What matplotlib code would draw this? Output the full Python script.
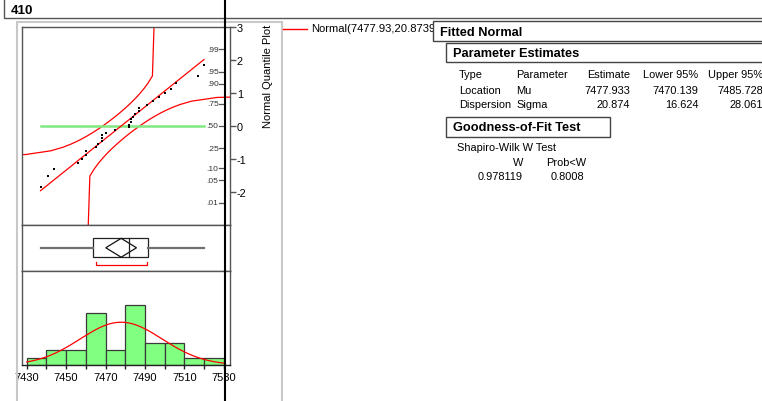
import matplotlib
matplotlib.use("Agg")
import matplotlib.pyplot as plt
from matplotlib.lines import Line2D
from matplotlib.patches import Rectangle, Polygon
import matplotlib.transforms as mtransforms
import numpy as np
from statistics import NormalDist

plt.rcParams['font.family'] = ['Liberation Sans', 'DejaVu Sans']

# ============================================================
# DATOS
# ============================================================
valores = [7437, 7441, 7444, 7456, 7458, 7460, 7460, 7465, 7466, 7468,
           7468, 7468, 7470, 7475, 7482, 7482, 7483, 7483, 7484, 7485,
           7487, 7487, 7491, 7494, 7497, 7500, 7503, 7506, 7517, 7520]
bordes = [7430, 7440, 7450, 7460, 7470, 7480, 7490, 7500, 7510, 7520, 7530]
media = 7477.933
sigma = 20.874
ic_media = [7470.139, 7485.728]
mitad_corta = [7465, 7491]
d_banda = 0.19   # ancho de la banda de confianza (en probabilidad)
probs = [0.01, 0.05, 0.10, 0.25, 0.50, 0.75, 0.90, 0.95, 0.99]
prob_labels = ['.01', '.05', '.10', '.25', '.50', '.75', '.90', '.95', '.99']
z_ticks = [-2, -1, 0, 1, 2, 3]
x_ticks = [7430, 7440, 7450, 7460, 7470, 7480, 7490, 7500, 7510, 7520, 7530]

tabla_cols = ['Type', 'Parameter', 'Estimate', 'Lower 95%', 'Upper 95%']
tabla_filas = [['Location', 'Mu', '7477.933', '7470.139', '7485.728'],
               ['Dispersion', 'Sigma', '20.874', '16.624', '28.061']]
sw_w = '0.978119'
sw_p = '0.8008'

W, H = 762, 402
nd = NormalDist()


def fx(x):
    return x / W


def fy(y):
    return 1 - y / H


fig = plt.figure(figsize=(W / 100, H / 100), dpi=100)

gris = '#555555'
rojo = '#ff0000'
verde = '#80ff80'
xlim = (7427.6, 7533.2)
fs = 7.9

# ============================================================
# Paneles
# ============================================================
ax_q = fig.add_axes([fx(22), fy(226), (230 - 22) / W, (226 - 28) / H])
ax_b = fig.add_axes([fx(22), fy(272), (230 - 22) / W, (272 - 226) / H])
ax_h = fig.add_axes([fx(22), fy(366), (230 - 22) / W, (366 - 272) / H])

for ax in (ax_q, ax_b, ax_h):
    ax.set_xlim(*xlim)
    for s in ax.spines.values():
        s.set_color(gris)
        s.set_linewidth(1.0)

# ---------------- grafico de cuantiles normales ----------------
n = len(valores)
ordenados = sorted(valores)
z_rango = [nd.inv_cdf((i + 1) / (n + 1)) for i in range(n)]

ax_q.set_ylim(-3, 3)

# bandas de confianza (tipo Lilliefors sobre la distribucion empirica)
lejos = 6 * sigma
xs_sup, zs_sup = [], []
for i in range(1, n):
    p = i / n - d_banda
    if p <= 0:
        continue
    if not xs_sup:
        xs_sup.append(media - lejos)
        zs_sup.append(z_rango[i - 2])
    xs_sup.append(media + sigma * nd.inv_cdf(p))
    zs_sup.append(z_rango[i - 1])
xs_sup.append(media + sigma * nd.inv_cdf(1 - d_banda))
zs_sup.append(6)

xs_inf, zs_inf = [media + sigma * nd.inv_cdf(d_banda)], [-6]
for i in range(2, n + 1):
    p = (i - 1) / n + d_banda
    if p >= 1:
        xs_inf.append(media + lejos)
        zs_inf.append(z_rango[i - 1])
        break
    xs_inf.append(media + sigma * nd.inv_cdf(p))
    zs_inf.append(z_rango[i - 1])

ax_q.plot(xs_sup, zs_sup, color=rojo, lw=0.9)
ax_q.plot(xs_inf, zs_inf, color=rojo, lw=0.9)

# linea en cero y linea ajustada
ax_q.plot([ordenados[0], ordenados[-1]], [0, 0], color='#80e880', lw=1.8)
ax_q.plot([ordenados[0], ordenados[-1]],
          [(ordenados[0] - media) / sigma, (ordenados[-1] - media) / sigma],
          color=rojo, lw=0.9)
ax_q.plot(ordenados, z_rango, 's', color='black', ms=2.1, mew=0)

ax_q.set_xticks([])
ax_q.yaxis.tick_right()
ax_q.set_yticks(z_ticks)
ax_q.set_yticklabels([str(z) for z in z_ticks])
ax_q.tick_params(axis='y', direction='out', length=4, width=1, color=gris,
                 labelsize=7.8, pad=1)

# eje de probabilidades (dentro del panel)
trans = mtransforms.blended_transform_factory(ax_q.transAxes, ax_q.transData)
for p, lab in zip(probs, prob_labels):
    z = nd.inv_cdf(p)
    ax_q.plot([0.947, 0.972], [z, z], color=gris, lw=0.9, transform=trans)
    ax_q.text(0.945, z, lab, transform=trans, ha='right', va='center',
              fontsize=6.0, color='#333333')

fig.text(fx(268), fy(25), 'Normal Quantile Plot', rotation=90,
         ha='center', va='top', fontsize=8.0)

# ---------------- diagrama de caja ----------------
q1, med, q3 = np.percentile(valores, [25, 50, 75], method='weibull')
ax_b.set_ylim(0, 1)
ax_b.set_xticks([])
ax_b.set_yticks([])
ax_b.plot([min(valores), q1], [0.5, 0.5], color='#707070', lw=1.6)
ax_b.plot([q3, max(valores)], [0.5, 0.5], color='#707070', lw=1.6)
ax_b.add_patch(Rectangle((q1, 0.3), q3 - q1, 0.41, fill=False,
                         edgecolor='#222222', lw=0.9))
ax_b.plot([med, med], [0.3, 0.71], color='#222222', lw=0.9)
ax_b.add_patch(Polygon([(ic_media[0], 0.505), (media, 0.71),
                        (ic_media[1], 0.505), (media, 0.3)],
                       closed=True, fill=False, edgecolor='#111111', lw=0.9))
ax_b.plot([mitad_corta[0], mitad_corta[0], mitad_corta[1], mitad_corta[1]],
          [0.2, 0.125, 0.125, 0.2], color=rojo, lw=0.9)

# ---------------- histograma ----------------
ax_h.hist(valores, bins=bordes, color=verde, edgecolor='#3a3a3a', lw=0.9)
xg = np.linspace(bordes[0], bordes[-1], 200)
dens = np.array([nd.pdf((x - media) / sigma) for x in xg])
ax_h.plot(xg, n * 10 * dens / sigma, color=rojo, lw=0.9)
ax_h.set_ylim(0, 12.6)
ax_h.set_yticks([])
ax_h.set_xticks(x_ticks)
ax_h.set_xticklabels([str(t) if (t - 7430) % 20 == 0 else '' for t in x_ticks])
ax_h.spines['bottom'].set_color('#222222')
ax_h.tick_params(axis='x', direction='out', length=3, width=1,
                 color='#222222', labelsize=8.0, pad=2)

# ============================================================
# Marcos, cabecera y leyenda
# ============================================================
def caja(x0, y0, x1, y1, color, lw, fill=False, z=4):
    r = Rectangle((fx(x0), fy(y1)), (x1 - x0) / W, (y1 - y0) / H,
                  transform=fig.transFigure, fill=fill, facecolor='white',
                  edgecolor=color, lw=lw, zorder=z)
    fig.add_artist(r)


caja(17, 23, 282, 420, '#c8c8c8', 1.5, z=1)
caja(4, -5, 780, 19, '#555555', 1.0)
fig.text(fx(10.5), fy(11), '410', fontsize=9.6, fontweight='bold',
         va='center', ha='left')

fig.add_artist(Line2D([fx(283), fx(307)], [fy(29.5), fy(29.5)],
                      color=rojo, lw=1.0, transform=fig.transFigure))
fig.text(fx(311), fy(29.5), 'Normal(7477.93,20.8739)', fontsize=8.1,
         va='center', ha='left', zorder=2)

# tabla de la derecha
caja(433, 22, 780, 42, '#444444', 1.0, fill=True, z=5)
fig.text(fx(440), fy(32.5), 'Fitted Normal', fontsize=9.2,
         fontweight='bold', va='center', zorder=6)
caja(446, 44, 780, 63, '#444444', 1.0, z=5)
fig.text(fx(453), fy(53.8), 'Parameter Estimates', fontsize=9.2,
         fontweight='bold', va='center', zorder=6)

col_x = [459, 516, 630, 698.5, 763]
col_ha = ['left', 'left', 'right', 'right', 'right']
fila_y = [75, 90.5, 105.5]
for fila, y in zip([tabla_cols] + tabla_filas, fila_y):
    for txt, x, ha in zip(fila, col_x, col_ha):
        fig.text(fx(x), fy(y), txt, fontsize=fs, ha=ha, va='center')

caja(446, 118, 610, 138, '#444444', 1.0, z=5)
fig.text(fx(453), fy(128), 'Goodness-of-Fit Test', fontsize=9.2,
         fontweight='bold', va='center', zorder=6)
fig.text(fx(457), fy(148), 'Shapiro-Wilk W Test', fontsize=fs, va='center')
fig.text(fx(523), fy(162.5), 'W', fontsize=fs, va='center', ha='right')
fig.text(fx(586), fy(162.5), 'Prob<W', fontsize=fs, va='center', ha='right')
fig.text(fx(523), fy(177), sw_w, fontsize=fs, va='center', ha='right')
fig.text(fx(584), fy(177), sw_p, fontsize=fs, va='center', ha='right')

# linea negra vertical que cruza toda la imagen
fig.add_artist(Line2D([fx(225), fx(225)], [0, 1], color='black', lw=1.5,
                      transform=fig.transFigure, zorder=100))

fig.savefig('out.png', dpi=100)
